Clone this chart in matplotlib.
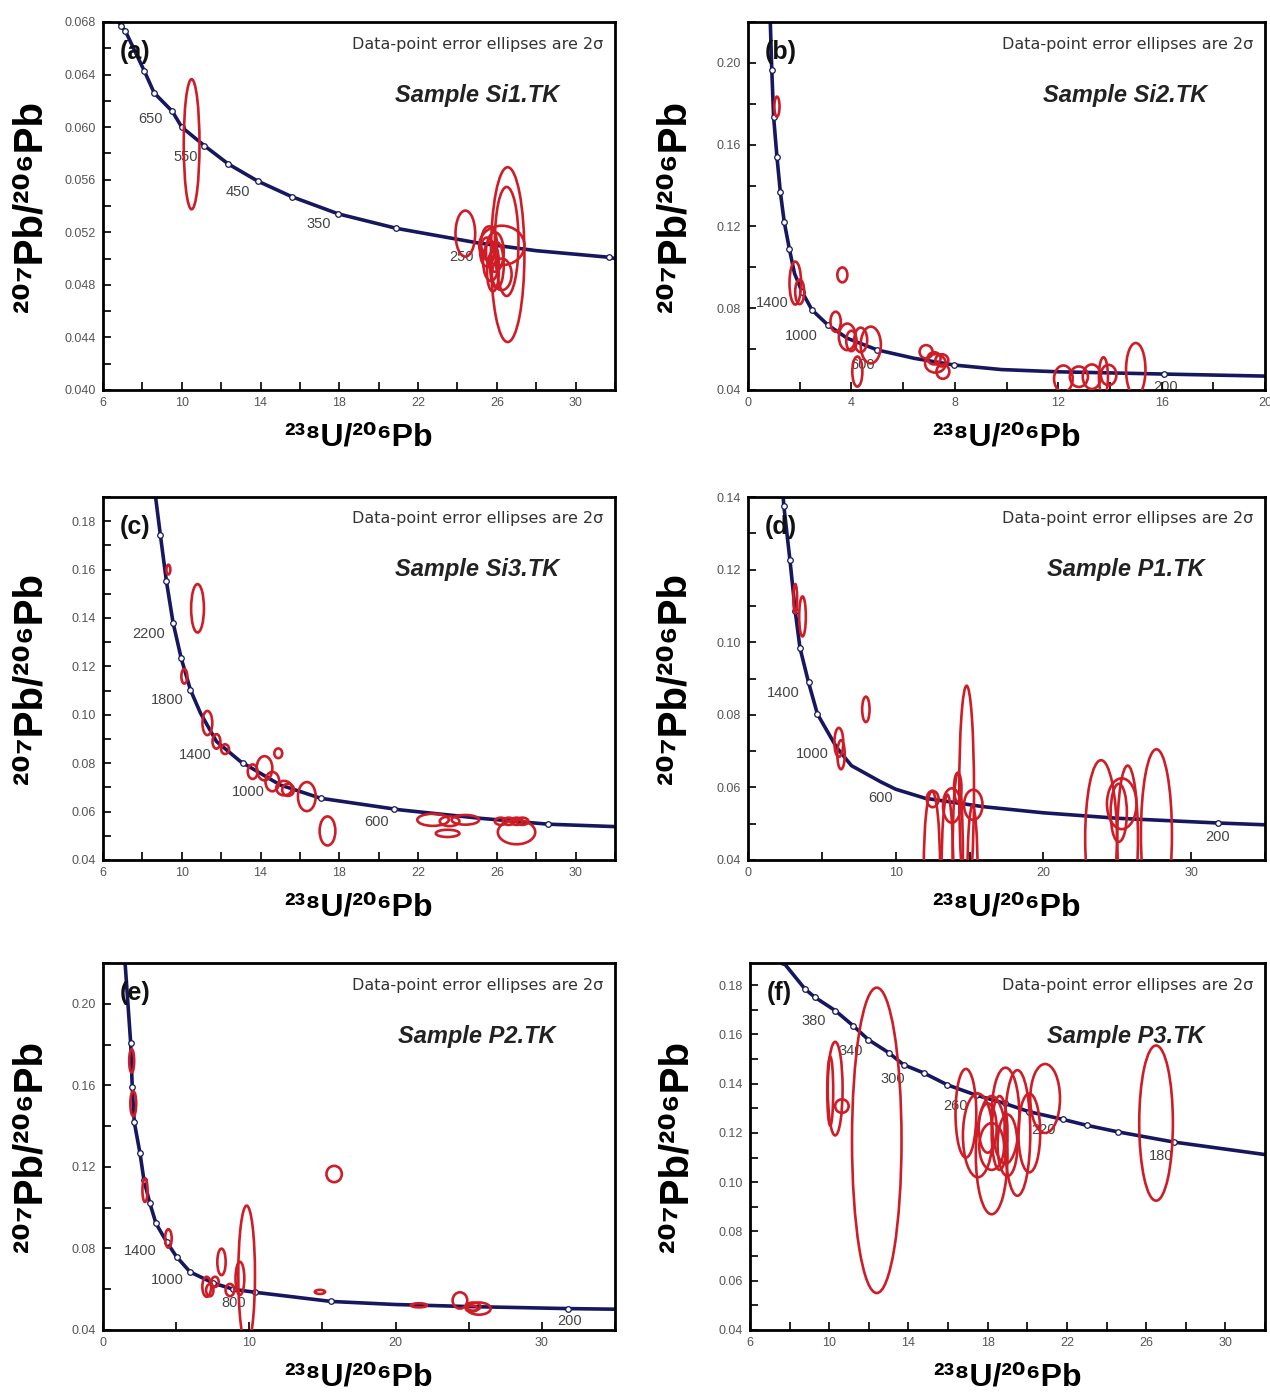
import matplotlib
matplotlib.use('Agg')
import matplotlib.pyplot as plt
from matplotlib.patches import Ellipse
from matplotlib.ticker import MultipleLocator, FormatStrFormatter

plt.rcParams['font.family'] = ['Liberation Sans', 'DejaVu Sans']

NAVY = '#17175f'
RED = '#cf1d27'
GREY = '#555555'

# ---- data: concordia line, age marks, error ellipses (cx, cy, w, h), age labels ----
a_curve = [(6.8, 0.0680), (6.93, 0.0677), (7.14, 0.0673), (8.09, 0.0643), (8.6, 0.0626), (9.52, 0.0612),
           (10.0, 0.0600), (11.14, 0.0586), (12.36, 0.0572), (13.85, 0.0559), (15.6, 0.0547), (17.95, 0.0534),
           (20.9, 0.0523), (25.0, 0.0512), (28.0, 0.0506), (31.7, 0.0501), (32.0, 0.0500)]
a_marks = [(6.93, 0.0677), (7.14, 0.0673), (8.09, 0.0643), (8.6, 0.0626), (9.52, 0.0612), (10.0, 0.0600),
           (11.14, 0.0586), (12.36, 0.0572), (13.85, 0.0559), (15.6, 0.0547), (17.95, 0.0534), (20.9, 0.0523),
           (31.7, 0.0501)]
a_ell = [(10.5, 0.0587, 0.8, 0.0099), (24.4, 0.0519, 1.0, 0.0035), (26.55, 0.0503, 1.7, 0.0133),
         (26.5, 0.0513, 1.2, 0.0083), (26.25, 0.0510, 2.3, 0.0030), (25.6, 0.0512, 0.8, 0.0025),
         (25.9, 0.0505, 0.9, 0.0030), (25.7, 0.0498, 0.8, 0.0030), (26.0, 0.0495, 0.7, 0.0035),
         (25.5, 0.0505, 0.7, 0.0022), (26.25, 0.0488, 1.0, 0.0024), (25.8, 0.0490, 0.6, 0.0030)]
a_ages = [('650', 8.4, 0.0606), ('550', 10.2, 0.0577), ('450', 12.85, 0.0551), ('350', 16.95, 0.0526),
          ('250', 24.2, 0.0501)]

b_curve = [(0.86, 0.221), (0.92, 0.1966), (0.99, 0.1737), (1.12, 0.154), (1.25, 0.137), (1.4, 0.1223),
           (1.6, 0.109), (1.8, 0.097), (2.09, 0.088), (2.48, 0.0791), (3.09, 0.0718), (3.84, 0.0653),
           (5.0, 0.0596), (6.43, 0.0555), (7.98, 0.0522), (9.8, 0.0500), (12.0, 0.0489), (16.1, 0.0478),
           (20.0, 0.0468)]
b_marks = [(0.92, 0.1966), (0.99, 0.1737), (1.12, 0.154), (1.25, 0.137), (1.4, 0.1223), (1.6, 0.109),
           (2.09, 0.088), (2.48, 0.0791), (3.09, 0.0718), (5.0, 0.0596), (7.98, 0.0522), (16.1, 0.0478)]
b_ell = [(1.12, 0.1786, 0.2, 0.0098), (1.83, 0.0923, 0.45, 0.021), (2.0, 0.088, 0.35, 0.012),
         (3.65, 0.0963, 0.39, 0.0073), (3.39, 0.0734, 0.4, 0.0098), (3.84, 0.066, 0.65, 0.013),
         (4.0, 0.064, 0.4, 0.010), (4.23, 0.049, 0.39, 0.0147), (4.36, 0.0645, 0.5, 0.012),
         (4.75, 0.062, 0.78, 0.018), (6.89, 0.0587, 0.5, 0.0065), (7.25, 0.053, 0.8, 0.009),
         (7.54, 0.049, 0.5, 0.007), (7.2, 0.0555, 0.5, 0.006), (7.5, 0.0545, 0.5, 0.006),
         (12.2, 0.0455, 0.72, 0.013), (12.8, 0.0465, 0.7, 0.010), (13.3, 0.0465, 0.7, 0.012),
         (13.75, 0.0465, 0.35, 0.019), (13.95, 0.0473, 0.6, 0.010), (15.0, 0.050, 0.75, 0.026)]
b_ages = [('1400', 0.93, 0.0826), ('1000', 2.05, 0.0666), ('600', 4.45, 0.0522), ('200', 16.15, 0.0415)]

c_curve = [(8.67, 0.19), (8.91, 0.1745), (9.22, 0.1552), (9.56, 0.138), (9.97, 0.1234), (10.44, 0.1103),
           (10.95, 0.1007), (11.76, 0.089), (12.98, 0.0807), (15.0, 0.071), (17.06, 0.0655), (21.1, 0.0607),
           (25.2, 0.0572), (28.6, 0.0548), (32.0, 0.0538)]
c_marks = [(8.91, 0.1745), (9.22, 0.1552), (9.56, 0.138), (9.97, 0.1234), (10.44, 0.1103), (13.09, 0.0802),
           (17.06, 0.0655), (20.8, 0.0610), (28.6, 0.0548)]
c_ell = [(9.32, 0.160, 0.2, 0.004), (10.8, 0.144, 0.65, 0.020), (10.13, 0.1159, 0.3, 0.006),
         (11.3, 0.0966, 0.5, 0.010), (11.76, 0.089, 0.4, 0.006), (12.2, 0.0858, 0.4, 0.004),
         (14.9, 0.0841, 0.4, 0.004), (13.6, 0.0765, 0.5, 0.006), (14.2, 0.0779, 0.8, 0.010),
         (14.6, 0.0724, 0.7, 0.008), (15.2, 0.0697, 0.8, 0.006), (15.4, 0.069, 0.6, 0.005),
         (16.35, 0.0662, 0.9, 0.012), (17.4, 0.052, 0.8, 0.012), (22.76, 0.0566, 1.6, 0.005),
         (23.6, 0.0560, 1.0, 0.004), (23.5, 0.051, 1.2, 0.003), (24.4, 0.0566, 1.4, 0.004),
         (26.2, 0.056, 0.6, 0.003), (26.6, 0.056, 0.6, 0.003), (27.0, 0.056, 0.6, 0.003),
         (27.3, 0.056, 0.6, 0.003), (27.0, 0.0515, 1.9, 0.010)]
c_ages = [('2200', 8.3, 0.1333), ('1800', 9.27, 0.106), ('1400', 10.7, 0.0834), ('1000', 13.4, 0.0683),
          ('600', 19.9, 0.0555)]

d_curve = [(2.38, 0.14), (2.43, 0.1374), (2.84, 0.1226), (3.2, 0.1085), (3.52, 0.0984), (4.1, 0.0889),
           (4.7, 0.0802), (6.0, 0.071), (7.0, 0.066), (9.0, 0.0615), (10.0, 0.0595), (12.0, 0.057),
           (15.9, 0.0547), (20.0, 0.053), (25.0, 0.0515), (31.8, 0.0502), (35.0, 0.0497)]
d_marks = [(2.43, 0.1374), (2.84, 0.1226), (3.2, 0.1085), (3.52, 0.0984), (4.1, 0.0889), (4.7, 0.0802),
           (31.8, 0.0502)]
d_ell = [(3.2, 0.112, 0.25, 0.008), (3.69, 0.1071, 0.45, 0.011), (7.98, 0.0815, 0.5, 0.007),
         (6.15, 0.0724, 0.6, 0.008), (6.3, 0.069, 0.5, 0.008), (12.5, 0.0568, 0.8, 0.0045),
         (12.45, 0.038, 1.1, 0.042), (13.5, 0.036, 0.8, 0.044), (13.8, 0.055, 1.2, 0.0095),
         (14.2, 0.040, 0.7, 0.048), (14.2, 0.060, 0.5, 0.008), (14.8, 0.059, 1.0, 0.058),
         (15.2, 0.035, 0.7, 0.040), (15.25, 0.0552, 1.25, 0.0083), (23.9, 0.046, 2.15, 0.043),
         (25.7, 0.046, 1.4, 0.040), (27.65, 0.047, 2.1, 0.047), (25.3, 0.0555, 2.0, 0.014),
         (25.1, 0.053, 1.1, 0.016)]
d_ages = [('1400', 2.4, 0.086), ('1000', 4.38, 0.0692), ('600', 8.97, 0.0571), ('200', 31.8, 0.0463)]

e_curve = [(1.5, 0.221), (1.89, 0.181), (2.0, 0.159), (2.14, 0.1419), (2.53, 0.1267), (2.8, 0.1134),
           (3.2, 0.1023), (3.62, 0.0923), (4.35, 0.0832), (5.03, 0.0759), (5.95, 0.0685), (7.54, 0.0630),
           (8.9, 0.0600), (10.39, 0.0585), (15.6, 0.0540), (20.0, 0.0525), (25.0, 0.0515), (31.8, 0.0505),
           (35.0, 0.0502)]
e_marks = [(1.89, 0.181), (2.0, 0.159), (2.14, 0.1419), (2.53, 0.1267), (2.8, 0.1134), (3.2, 0.1023),
           (3.62, 0.0923), (4.35, 0.0832), (5.03, 0.0759), (5.95, 0.0685), (7.54, 0.0630), (8.9, 0.0600),
           (10.39, 0.0585), (15.6, 0.0540), (31.8, 0.0505)]
e_ell = [(1.96, 0.172, 0.34, 0.0114), (2.07, 0.151, 0.4, 0.0122), (2.87, 0.1085, 0.35, 0.0114),
         (4.47, 0.0849, 0.45, 0.009), (8.1, 0.0734, 0.57, 0.013), (7.09, 0.0612, 0.6, 0.0098),
         (7.3, 0.0595, 0.5, 0.006), (7.66, 0.0636, 0.5, 0.005), (8.68, 0.0596, 0.6, 0.006),
         (9.36, 0.0653, 0.6, 0.0163), (9.82, 0.067, 1.14, 0.068), (15.8, 0.1165, 1.05, 0.0080),
         (14.83, 0.0587, 0.7, 0.002), (21.6, 0.0521, 1.1, 0.002), (24.4, 0.0545, 1.0, 0.008),
         (25.3, 0.0515, 1.0, 0.004), (25.7, 0.0505, 1.6, 0.006), (25.2, 0.0505, 0.8, 0.003)]
e_ages = [('1400', 2.53, 0.0786), ('1000', 4.37, 0.0645), ('800', 8.9, 0.0532), ('200', 31.9, 0.0444)]

f_curve = [(7.5, 0.19), (7.67, 0.1894), (8.78, 0.1784), (9.29, 0.175), (10.3, 0.1697), (11.2, 0.1636),
           (11.97, 0.1579), (13.0, 0.1526), (13.75, 0.1477), (14.76, 0.1444), (15.97, 0.1395), (17.4, 0.1354),
           (18.85, 0.132), (20.1, 0.1286), (21.8, 0.1255), (23.0, 0.1231), (24.6, 0.1204), (27.4, 0.1163),
           (32.3, 0.1109)]
f_marks = f_curve[1:]
f_ell = [(12.4, 0.117, 2.5, 0.124), (10.3, 0.138, 0.75, 0.038), (10.05, 0.137, 0.3, 0.028),
         (10.64, 0.1309, 0.68, 0.0055), (16.9, 0.128, 1.05, 0.036), (17.5, 0.119, 1.5, 0.034),
         (18.2, 0.111, 1.6, 0.048), (18.9, 0.127, 1.4, 0.039), (19.5, 0.120, 1.3, 0.051),
         (20.1, 0.120, 1.1, 0.032), (20.9, 0.134, 1.5, 0.028), (18.2, 0.1145, 1.25, 0.019),
         (18.0, 0.122, 0.9, 0.020), (19.0, 0.115, 1.0, 0.025), (18.6, 0.120, 0.8, 0.030),
         (26.5, 0.124, 1.7, 0.063)]
f_ages = [('380', 9.24, 0.1653), ('340', 11.06, 0.1534), ('300', 13.2, 0.142), ('260', 16.4, 0.131),
          ('220', 20.8, 0.121), ('180', 26.75, 0.1108)]

letters = ['(a)', '(b)', '(c)', '(d)', '(e)', '(f)']
samples = ['Sample Si1.TK', 'Sample Si2.TK', 'Sample Si3.TK', 'Sample P1.TK', 'Sample P2.TK', 'Sample P3.TK']

# ---- layout: axes rect in pixels (left, top, right, bottom), limits, tick steps (major, offset, minor) ----
W, H = 1270, 1396
layout = [
    dict(rect=(103, 22, 615, 390), xlim=(6, 32), ylim=(0.040, 0.068), xs=(4, 2, 2), ys=(0.004, 0.002), fmt='%.3f'),
    dict(rect=(748, 22, 1265, 390), xlim=(0, 20), ylim=(0.04, 0.22), xs=(4, 0, 2), ys=(0.04, 0.02), fmt='%.2f'),
    dict(rect=(103, 497, 615, 860), xlim=(6, 32), ylim=(0.04, 0.19), xs=(4, 2, 2), ys=(0.02, 0.01), fmt='%.2f'),
    dict(rect=(748, 497, 1265, 860), xlim=(0, 35), ylim=(0.04, 0.14), xs=(10, 0, 5), ys=(0.02, 0.01), fmt='%.2f'),
    dict(rect=(103, 963, 615, 1330), xlim=(0, 35), ylim=(0.04, 0.22), xs=(10, 0, 5), ys=(0.04, 0.02), fmt='%.2f'),
    dict(rect=(750, 963, 1265, 1330), xlim=(6, 32), ylim=(0.04, 0.189), xs=(4, 2, 2), ys=(0.02, 0.01), fmt='%.2f'),
]
curves = [a_curve, b_curve, c_curve, d_curve, e_curve, f_curve]
marks = [a_marks, b_marks, c_marks, d_marks, e_marks, f_marks]
ells = [a_ell, b_ell, c_ell, d_ell, e_ell, f_ell]
ages = [a_ages, b_ages, c_ages, d_ages, e_ages, f_ages]

fig = plt.figure(figsize=(W / 100, H / 100), dpi=100)

for i, lay in enumerate(layout):
    l, t, r, b = lay['rect']
    ax = fig.add_axes([l / W, 1 - b / H, (r - l) / W, (b - t) / H])
    ax.set_xlim(*lay['xlim'])
    ax.set_ylim(*lay['ylim'])

    cx, cy = zip(*curves[i])
    ax.plot(cx, cy, color=NAVY, lw=2.6, zorder=2, solid_capstyle='round')
    mx, my = zip(*marks[i])
    ax.plot(mx, my, 'o', ms=4, mfc='white', mec=NAVY, mew=0.9, zorder=2.2)

    for (ex, ey, ew, eh) in ells[i]:
        ax.add_patch(Ellipse((ex, ey), ew, eh, fill=False, ec=RED, lw=1.9, zorder=3))

    for (txt, tx, ty) in ages[i]:
        ax.text(tx, ty, txt, fontsize=10.5, color='#444444', ha='center', va='center', zorder=1.5)

    ax.text(0.977, 0.94, 'Data-point error ellipses are 2σ', transform=ax.transAxes,
            ha='right', va='center', fontsize=11.5, color='#333333', family='DejaVu Sans')
    ax.text(0.73, 0.80, samples[i], transform=ax.transAxes, ha='center', va='center',
            fontsize=17, fontweight='bold', fontstyle='italic', color='#222222')
    ax.text(0.033, 0.918, letters[i], transform=ax.transAxes, ha='left', va='center',
            fontsize=18, fontweight='bold', color='#111111')

    ax.text(-0.142, 0.5, '²⁰⁷Pb/²⁰⁶Pb', transform=ax.transAxes, rotation=90,
            ha='center', va='center', fontsize=29, fontweight='bold')
    ax.text(0.5, -0.13, '²³⁸U/²⁰⁶Pb', transform=ax.transAxes,
            ha='center', va='center', fontsize=23, fontweight='bold')

    ax.xaxis.set_major_locator(MultipleLocator(lay['xs'][0], offset=lay['xs'][1]))
    ax.xaxis.set_minor_locator(MultipleLocator(lay['xs'][2]))
    ax.yaxis.set_major_locator(MultipleLocator(lay['ys'][0]))
    ax.yaxis.set_minor_locator(MultipleLocator(lay['ys'][1]))
    ax.yaxis.set_major_formatter(FormatStrFormatter(lay['fmt']))
    ax.tick_params(which='both', direction='in', length=6, width=1.3, top=False, right=False,
                   colors='#111111', labelcolor=GREY, labelsize=9, pad=5)
    for sp in ax.spines.values():
        sp.set_linewidth(2.0)

fig.savefig('out.png', dpi=100, facecolor='white')
